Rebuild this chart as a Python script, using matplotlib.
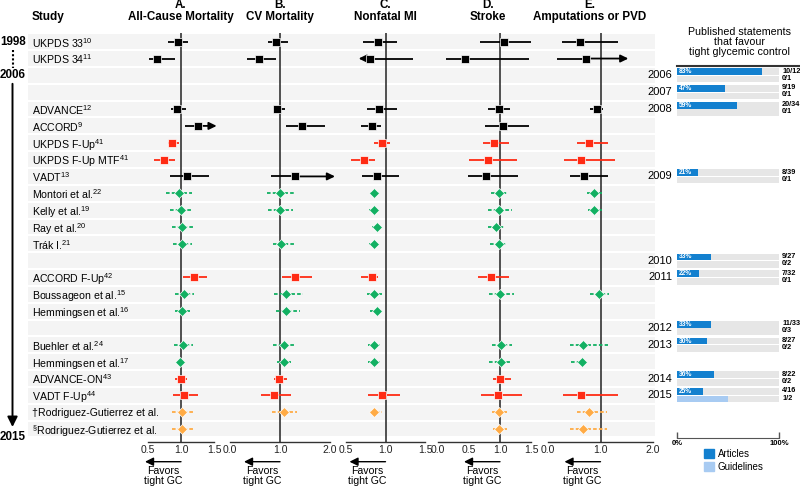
import numpy as np
import matplotlib
matplotlib.use('Agg')
import matplotlib.pyplot as plt
from matplotlib.patches import Patch
from matplotlib.transforms import offset_copy

plt.rcParams['font.family'] = ['Liberation Sans', 'DejaVu Sans']
plt.rcParams['mathtext.fontset'] = 'custom'
plt.rcParams['mathtext.rm'] = 'Liberation Sans'
plt.rcParams['mathtext.it'] = 'Liberation Sans:italic'
plt.rcParams['mathtext.bf'] = 'Liberation Sans:bold'

nan = np.nan

# ---- studies (one row each, '' = empty row) ----
studies = ['UKPDS 33$^{10}$', 'UKPDS 34$^{11}$', '', '',
           'ADVANCE$^{12}$', 'ACCORD$^{9}$', 'UKPDS F-Up$^{41}$', 'UKPDS F-Up MTF$^{41}$',
           'VADT$^{13}$', 'Montori et al.$^{22}$', 'Kelly et al.$^{19}$', 'Ray et al.$^{20}$',
           'Trák I.$^{21}$', '', 'ACCORD F-Up$^{42}$', 'Boussageon et al.$^{15}$',
           'Hemmingsen et al.$^{16}$', '', 'Buehler et al.$^{24}$', 'Hemmingsen et al.$^{17}$',
           'ADVANCE-ON$^{43}$', 'VADT F-Up$^{44}$', '†Rodriguez-Gutierrez et al.',
           r'$^{\S}$Rodriguez-Gutierrez et al.']
kinds = ['rct', 'rct', '', '', 'rct', 'rct', 'fup', 'fup', 'rct', 'meta', 'meta', 'meta',
         'meta', '', 'fup', 'meta', 'meta', '', 'meta', 'meta', 'fup', 'fup', 'rg', 'rg']

# ---- relative risks (estimate, lower, upper) per outcome ----
a_est = [0.95, 0.63, nan, nan, 0.94, 1.26, 0.87, 0.74, 1.09, 0.97, 1.00, 1.02, 1.01, nan, 1.19, 1.05, 1.01, nan, 1.03, 0.99, 1.00, 1.05, 1.02, 1.02]
a_lo = [0.81, 0.52, nan, nan, 0.85, 1.06, 0.80, 0.59, 0.83, 0.77, 0.84, 0.87, 0.88, nan, 1.03, 0.91, 0.91, nan, 0.89, 0.94, 0.91, 0.88, 0.86, 0.86]
a_hi = [1.11, 0.91, nan, nan, 1.07, 1.54, 0.97, 0.91, 1.43, 1.17, 1.16, 1.20, 1.17, nan, 1.39, 1.20, 1.14, nan, 1.18, 1.05, 1.09, 1.26, 1.20, 1.20]

b_est = [0.92, 0.57, nan, nan, 0.94, 1.43, nan, nan, 1.30, 1.00, 0.99, nan, 1.02, nan, 1.29, 1.12, 1.12, nan, 1.07, 1.08, 0.98, 0.88, 1.08, nan]
b_lo = [0.75, 0.35, nan, nan, 0.87, 1.11, nan, nan, 0.82, 0.73, 0.75, nan, 0.85, nan, 1.03, 0.87, 0.92, nan, 0.85, 0.93, 0.87, 0.62, 0.83, nan]
b_hi = [1.15, 0.91, nan, nan, 1.09, 1.89, nan, nan, 2.10, 1.27, 1.25, nan, 1.27, nan, 1.63, 1.45, 1.39, nan, 1.32, 1.22, 1.13, 1.22, 1.33, nan]

c_est = [0.90, 0.81, nan, nan, 0.92, 0.83, 0.95, 0.73, 0.89, 0.85, 0.85, 0.89, 0.85, nan, 0.83, 0.85, 0.89, nan, 0.85, 0.85, nan, 0.95, 0.85, nan]
c_lo = [0.72, 0.66, nan, nan, 0.77, 0.69, 0.86, 0.56, 0.70, 0.80, 0.79, 0.83, 0.79, nan, 0.69, 0.77, 0.80, nan, 0.78, 0.78, nan, 0.78, 0.80, nan]
c_hi = [1.15, 1.35, nan, nan, 1.14, 0.94, 1.06, 0.87, 1.17, 0.92, 0.91, 0.94, 0.91, nan, 0.91, 0.96, 0.95, nan, 0.93, 0.93, nan, 1.18, 0.96, nan]

d_est = [1.06, 0.44, nan, nan, 0.98, 1.05, 0.91, 0.80, 0.78, 0.98, 0.98, 0.94, 0.99, nan, 0.85, 1.00, nan, nan, 1.02, 1.01, 1.00, 0.97, 0.99, 0.99]
d_lo = [0.68, 0.13, nan, nan, 0.81, 0.76, 0.73, 0.50, 0.49, 0.85, 0.81, 0.80, 0.84, nan, 0.65, 0.83, nan, nan, 0.87, 0.82, 0.88, 0.69, 0.87, 0.88]
d_hi = [1.51, 1.46, nan, nan, 1.16, 1.46, 1.15, 1.28, 1.29, 1.13, 1.19, 1.08, 1.12, nan, 1.15, 1.23, nan, nan, 1.19, 1.20, 1.17, 1.36, 1.11, 1.12]

e_est = [0.60, 0.72, nan, nan, 0.94, nan, 0.79, 0.62, 0.69, 0.88, 0.88, nan, nan, nan, nan, 0.97, nan, nan, 0.67, 0.64, nan, 0.63, 0.78, 0.66]
e_lo = [0.27, 0.18, nan, nan, 0.80, nan, 0.55, 0.30, 0.42, 0.74, 0.77, nan, nan, nan, nan, 0.80, nan, nan, 0.42, 0.44, nan, 0.28, 0.55, 0.41]
e_hi = [1.33, 1.53, nan, nan, 1.05, nan, 1.14, 1.28, 1.15, 1.03, 1.02, nan, nan, nan, nan, 1.16, nan, nan, 1.14, 0.75, nan, 1.34, 1.13, 1.13]

# CI continues beyond what is shown -> arrow (panel, row, side)
arrows = [(0, 5, 'hi'), (1, 8, 'hi'), (2, 1, 'lo'), (4, 1, 'hi')]

# ---- published statements per year ----
years = [2006, 2007, 2008, 2009, 2010, 2011, 2012, 2013, 2014, 2015]
year_row = [2, 3, 4, 8, 13, 14, 17, 18, 20, 21]
art_fav = [10, 9, 20, 8, 9, 7, 11, 8, 8, 4]
art_tot = [12, 19, 34, 39, 27, 32, 33, 27, 22, 16]
gl_fav = [0, 0, 0, 0, 0, 0, 0, 0, 0, 1]
gl_tot = [1, 1, 1, 1, 2, 1, 3, 2, 2, 2]

# ---- layout ----
W, H = 800, 486
row0_px, pitch = 41.7, 16.84
top_px, bot_px = 33.3, 441.7


def to_row(px):
    return (px - row0_px) / pitch


def rect(x0, x1, top=top_px, bot=bot_px):
    return [x0 / W, 1 - bot / H, (x1 - x0) / W, (bot - top) / H]


styles = {'rct': ('#000000', 's', 5.6, '-'),
          'fup': ('#ff2b14', 's', 5.6, '-'),
          'meta': ('#12b062', 'D', 5.0, (0, (2, 1.2))),
          'rg': ('#ffab45', 'D', 5.0, (0, (2, 1.2)))}

fig = plt.figure(figsize=(8, 4.86), dpi=100)

# background: stripes, study labels, timeline
bg = fig.add_axes(rect(0, W))
bg.set_xlim(0, W)
bg.set_ylim(to_row(bot_px), to_row(top_px))
bg.axis('off')
for r in range(len(studies)):
    bg.axhspan(r - 0.44, r + 0.44, xmin=28 / W, xmax=655 / W, color='#f4f4f4', lw=0)
    if studies[r]:
        bg.text(32, r, studies[r], ha='left', va='center_baseline', fontsize=7.6)
bg.text(32, to_row(16.7), 'Study', ha='left', va='center', fontsize=8.5, fontweight='bold')

bg.text(13, 0, '1998', ha='center', va='center', fontsize=8.4, fontweight='bold')
bg.text(13, 2, '2006', ha='center', va='center', fontsize=8.4, fontweight='bold')
bg.text(13, to_row(437), '2015', ha='center', va='center', fontsize=8.4, fontweight='bold', clip_on=False)
bg.plot([12.5, 12.5], [0.5, 1.55], ls=(0, (1, 1)), lw=1.5, color='black')
bg.annotate('', xy=(12.5, to_row(427)), xytext=(12.5, 2.5),
            arrowprops=dict(arrowstyle='-|>,head_length=0.6,head_width=0.3', lw=1.4,
                            color='black', shrinkA=0, shrinkB=0, mutation_scale=10))

# forest panels
panels = [
    ('A.\nAll-Cause Mortality', a_est, a_lo, a_hi, (148, 214), (0.5, 1.5), [0.5, 1.0, 1.5], 1.0),
    ('B.\nCV Mortality', b_est, b_lo, b_hi, (230, 330), (0.0, 2.0), [0.0, 1.0, 2.0], 1.0),
    ('C.\nNonfatal MI', c_est, c_lo, c_hi, (346, 425), (0.5, 1.5), [0.5, 1.0, 1.5], 1.0),
    ('D.\nStroke', d_est, d_lo, d_hi, (438, 531), (0.0, 1.5), [0.0, 0.5, 1.0, 1.5], 0.8),
    ('E.\nAmputations or PVD', e_est, e_lo, e_hi, (548, 653), (0.0, 2.0), [0.0, 1.0, 2.0], 0.8),
]

for p, (title, est, lo, hi, (x0, x1), xlim, ticks, tx) in enumerate(panels):
    ax = fig.add_axes(rect(x0, x1))
    ax.set_facecolor('none')
    ax.set_xlim(*xlim)
    ax.set_ylim(to_row(bot_px), to_row(top_px))
    for s in ['top', 'left', 'right']:
        ax.spines[s].set_visible(False)
    ax.spines['bottom'].set_color('#333333')
    ax.spines['bottom'].set_linewidth(1.0)
    ax.set_yticks([])
    ax.set_xticks(ticks)
    ax.set_xticklabels([f'{t:.1f}' for t in ticks])
    ax.set_xticks(list(xlim), minor=True)
    ax.tick_params(axis='x', which='major', length=0, pad=2.5, labelsize=7.5, colors='#222222')
    ax.tick_params(axis='x', which='minor', direction='in', length=4, width=1.0, color='#333333')
    ax.axvline(1.0, color='#333333', lw=1.2, zorder=2)

    ax.text(tx, to_row(10.8), title, ha='center', va='center', fontsize=8.4,
            fontweight='bold', linespacing=0.95)

    for r in range(len(studies)):
        if np.isnan(est[r]):
            continue
        col, mk, ms, ls = styles[kinds[r]]
        side = None
        for (pp, rr, sd) in arrows:
            if pp == p and rr == r:
                side = sd
        aprops = dict(arrowstyle='-|>,head_length=0.45,head_width=0.22', color=col, lw=1.3,
                      shrinkA=0, shrinkB=0, mutation_scale=10)
        if side == 'hi':
            ax.hlines(r, lo[r], est[r], color=col, lw=1.3, linestyles=ls, zorder=3)
            ax.annotate('', xy=(hi[r], r), xytext=(est[r], r), arrowprops=aprops,
                        annotation_clip=False, zorder=3)
        elif side == 'lo':
            ax.hlines(r, est[r], hi[r], color=col, lw=1.3, linestyles=ls, zorder=3)
            ax.annotate('', xy=(lo[r], r), xytext=(est[r], r), arrowprops=aprops,
                        annotation_clip=False, zorder=3)
        else:
            ax.hlines(r, lo[r], hi[r], color=col, lw=1.3, linestyles=ls, zorder=3)
        ax.plot(est[r], r, marker=mk, ms=ms, mfc=col, mec='white', mew=0.5, zorder=4)

    # "Favors tight GC" arrow below the axis
    t_tail = offset_copy(ax.get_xaxis_transform(), fig=fig, x=0, y=-20, units='dots')
    t_head = offset_copy(ax.get_xaxis_transform(), fig=fig, x=-36, y=-20, units='dots')
    ax.annotate('', xy=(1.0, 0), xycoords=t_head, xytext=(1.0, 0), textcoords=t_tail,
                arrowprops=dict(arrowstyle='-|>,head_length=0.5,head_width=0.25', color='black',
                                lw=1.0, shrinkA=0, shrinkB=0, mutation_scale=10),
                annotation_clip=False)
    t_txt = offset_copy(ax.get_xaxis_transform(), fig=fig, x=-18, y=-34, units='dots')
    ax.text(1.0, 0, 'Favors\ntight GC', transform=t_txt, ha='center', va='center',
            fontsize=7.6, linespacing=0.95)

# published statements panel
rp_bot = 438.3
rp = fig.add_axes(rect(677, 779, bot=rp_bot))
rp.set_facecolor('none')
rp.set_xlim(0, 100)
rp.set_ylim(to_row(rp_bot), to_row(top_px))
for s in ['top', 'left', 'right']:
    rp.spines[s].set_visible(False)
rp.spines['bottom'].set_color('#555555')
rp.set_yticks([])
rp.set_xticks([0, 100])
rp.set_xticklabels(['0%', '100%'], fontweight='bold')
rp.tick_params(axis='x', direction='in', length=4, width=1.0, color='#555555',
               pad=1.5, labelsize=5.5)

blue, light = '#1380cf', '#a8cbf2'
for i, yr in enumerate(years):
    r = year_row[i]
    rp.barh(r - 0.22, 100, height=0.4, color='#e6e6e6', lw=0)
    rp.barh(r + 0.22, 100, height=0.4, color='#e6e6e6', lw=0)
    pa = 100 * art_fav[i] / art_tot[i]
    pg = 100 * gl_fav[i] / gl_tot[i]
    rp.barh(r - 0.22, pa, height=0.4, color=blue, lw=0)
    rp.barh(r + 0.22, pg, height=0.4, color=light, lw=0)
    rp.text(1.5, r - 0.22, f'{pa:.0f}%', color='white', fontsize=4.8, fontweight='bold',
            ha='left', va='center')
    rp.text(103, r - 0.26, f'{art_fav[i]}/{art_tot[i]}', fontsize=5.3, fontweight='bold',
            ha='left', va='center', clip_on=False)
    rp.text(103, r + 0.16, f'{gl_fav[i]}/{gl_tot[i]}', fontsize=5.3, fontweight='bold',
            ha='left', va='center', clip_on=False)
    rp.text(-4.5, r, str(yr), fontsize=8, ha='right', va='center', clip_on=False)

rp.plot([0, 120.6], [to_row(66), to_row(66)], color='#333333', lw=1.5, clip_on=False)
rp.text(60.8, to_row(42.3), 'Published statements\nthat favour\ntight glycemic control',
        ha='center', va='center', fontsize=7.7, linespacing=1.0, clip_on=False)

fig.legend(handles=[Patch(color=blue), Patch(color=light)], labels=['Articles', 'Guidelines'],
           loc='upper left', bbox_to_anchor=(704 / W, 1 - 449 / H), frameon=False,
           fontsize=7, handlelength=1.0, handleheight=1.0, handletextpad=0.4,
           labelspacing=0.3, borderpad=0, borderaxespad=0)

fig.savefig('out.png', dpi=100)
